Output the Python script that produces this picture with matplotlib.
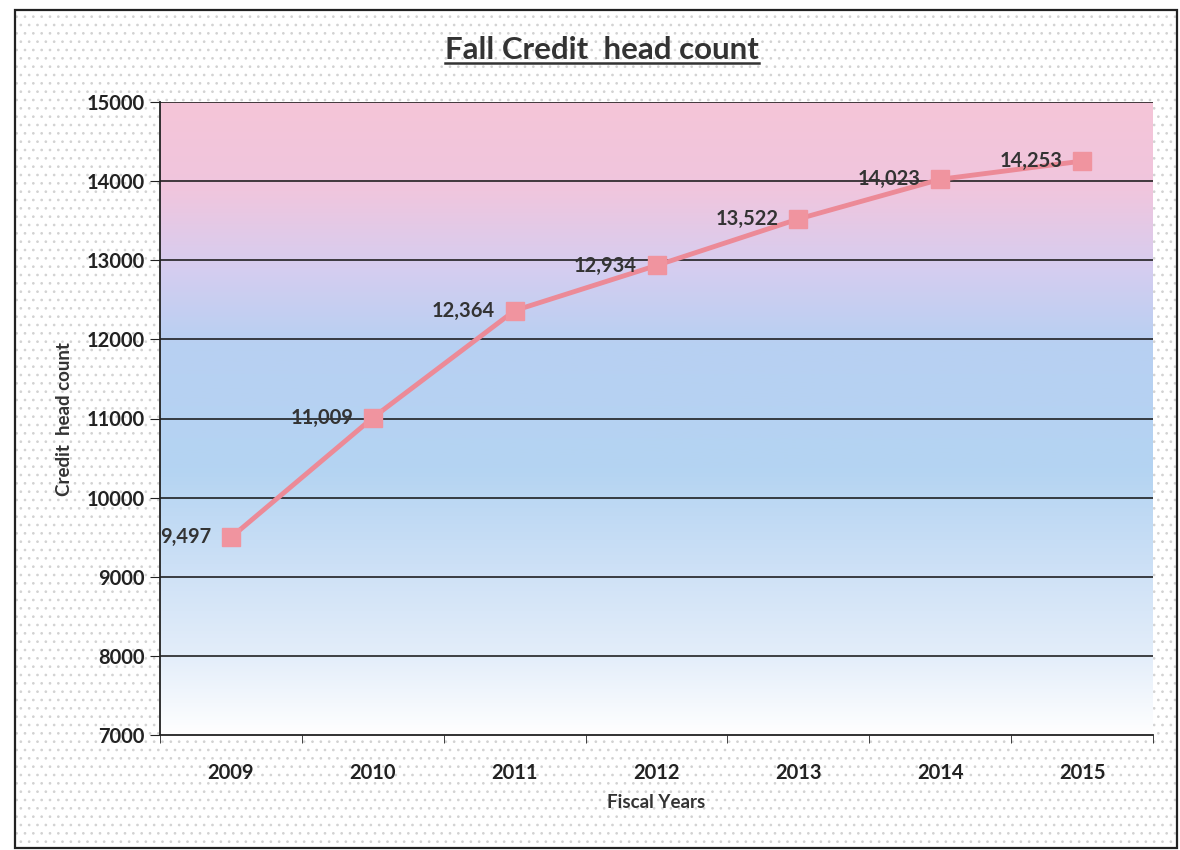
import numpy as np
import matplotlib
matplotlib.use("Agg")
import matplotlib.pyplot as plt
from matplotlib.colors import LinearSegmentedColormap
from matplotlib.patches import Rectangle
from matplotlib.lines import Line2D

# data
years = ["2009", "2010", "2011", "2012", "2013", "2014", "2015"]
headcount = [9497, 11009, 12364, 12934, 13522, 14023, 14253]
yticks = [7000, 8000, 9000, 10000, 11000, 12000, 13000, 14000, 15000]

plt.rcParams['font.family'] = ['Lato', 'DejaVu Sans']
plt.rcParams['hatch.linewidth'] = 0.7

fig = plt.figure(figsize=(11.8, 8.5), dpi=100)
fig.patch.set_facecolor("white")

# dotted paper background + frame
bg = Rectangle((15 / 1180, 2 / 850), 1162 / 1180, 838 / 850, transform=fig.transFigure,
               facecolor="white", edgecolor="#d2d2d2", hatch="..", lw=0, zorder=-10)
fig.patches.append(bg)
frame = Rectangle((15 / 1180, 2 / 850), 1162 / 1180, 838 / 850, transform=fig.transFigure,
                  facecolor="none", edgecolor="#222222", lw=1.6, zorder=-9)
fig.patches.append(frame)

ax = fig.add_axes([160 / 1180, 115 / 850, 993 / 1180, 633 / 850])
ax.set_facecolor("none")
x = np.arange(len(years))

# gradient fill of plot area
grad = LinearSegmentedColormap.from_list("bg", [
    (0.0, "#ffffff"), (0.12, "#e4eefa"), (0.27, "#cce0f6"), (0.42, "#b4d4f2"),
    (0.62, "#b8d0f2"), (0.74, "#d6cdf0"), (0.86, "#f0c6de"), (1.0, "#f5c5d8")])
ax.imshow(np.linspace(1, 0, 256).reshape(-1, 1), aspect="auto", cmap=grad,
          extent=[-0.5, len(years) - 0.5, 7000, 15000], zorder=0)

ax.set_xlim(-0.5, len(years) - 0.5)
ax.set_ylim(7000, 15000)
ax.set_yticks(yticks)
ax.set_yticklabels([str(v) for v in yticks], fontsize=14.5, fontweight="bold", color="#222222")
ax.set_xticks(x)
ax.set_xticklabels(years, fontsize=14.5, fontweight="bold", color="#222222")
ax.set_xticks(np.arange(-0.5, len(years)), minor=True)
ax.tick_params(axis="x", which="major", length=0, pad=20)
ax.tick_params(axis="x", which="minor", length=6, direction="out", color="#222222")
ax.tick_params(axis="y", length=7, direction="out", color="#222222", pad=4)

for v in yticks[1:]:
    ax.axhline(v, color="#111111", lw=1.1, zorder=1)

for s in ["top", "right"]:
    ax.spines[s].set_visible(False)
for s in ["left", "bottom"]:
    ax.spines[s].set_color("#222222")
    ax.spines[s].set_linewidth(1.3)

ax.plot(x, headcount, color="#ec8a97", lw=3.5, marker="s", markersize=13,
        markerfacecolor="#f0949f", markeredgecolor="#f0949f", zorder=3)

for xi, v in zip(x, headcount):
    ax.annotate(f"{v:,}", (xi, v), xytext=(-14, 0), textcoords="offset points",
                ha="right", va="center", fontsize=14.5, fontweight="bold", color="#333333", zorder=4)

ax.set_xlabel("Fiscal Years", fontsize=13.5, fontweight="bold", color="#333333", labelpad=8)
ax.set_ylabel("Credit  head count", fontsize=13.5, fontweight="bold", color="#333333", labelpad=10)

# underlined title
title = fig.text(602 / 1180, 1 - 50 / 850, "Fall Credit  head count", ha="center", va="center",
                 fontsize=22.5, fontweight="bold", color="#333333")
fig.canvas.draw()
bb = title.get_window_extent(fig.canvas.get_renderer())
uy = (bb.y0 + 1) / fig.bbox.height
fig.lines.append(Line2D([bb.x0 / fig.bbox.width, bb.x1 / fig.bbox.width], [uy, uy],
                        transform=fig.transFigure, color="#333333", lw=1.8))

fig.savefig("out.png", dpi=100)
